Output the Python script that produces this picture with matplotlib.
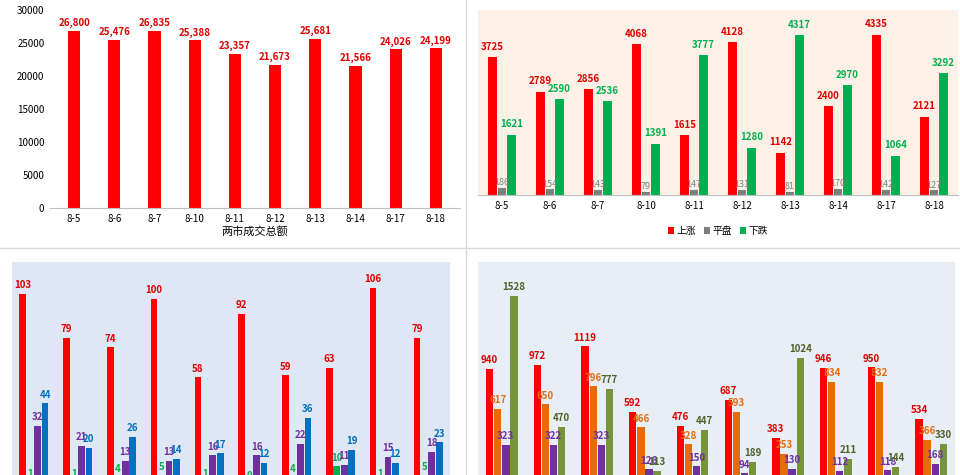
import numpy as np
import matplotlib.pyplot as plt

plt.rcParams['font.family'] = ['Noto Sans CJK SC', 'DejaVu Sans']

dates = ["8-5", "8-6", "8-7", "8-10", "8-11", "8-12", "8-13", "8-14", "8-17", "8-18"]

# 两市成交总额
turnover = [26800, 25476, 26835, 25388, 23357, 21673, 25681, 21566, 24026, 24199]

# 上涨 / 平盘 / 下跌
up = [3725, 2789, 2856, 4068, 1615, 4128, 1142, 2400, 4335, 2121]
flat = [186, 154, 143, 79, 147, 131, 81, 170, 142, 127]
down = [1621, 2590, 2536, 1391, 3777, 1280, 4317, 2970, 1064, 3292]

# bottom left
bl_red = [103, 79, 74, 100, 58, 92, 59, 63, 106, 79]
bl_green = [1, 1, 4, 5, 1, 0, 4, 10, 1, 5]
bl_purple = [32, 21, 13, 13, 16, 16, 22, 11, 15, 18]
bl_blue = [44, 20, 26, 14, 17, 12, 36, 19, 12, 23]

# bottom right
br_red = [940, 972, 1119, 592, 476, 687, 383, 946, 950, 534]
br_orange = [617, 650, 796, 466, 328, 593, 253, 834, 832, 366]
br_purple = [323, 322, 323, 126, 150, 94, 130, 112, 118, 168]
br_green = [1528, 470, 777, 113, 447, 189, 1024, 211, 144, 330]

W, H = 960, 475
fig = plt.figure(figsize=(9.6, 4.75), dpi=100)


def ax_at(x0, y0, x1, y1):
    # pixel box (top-left origin) -> axes
    return fig.add_axes([x0 / W, 1 - y1 / H, (x1 - x0) / W, (y1 - y0) / H])


x = np.arange(len(dates))

# ---- top left
ax = ax_at(50, 10, 460, 208)
ax.bar(x, turnover, width=0.3, color="#ff0000")
for i, v in enumerate(turnover):
    ax.text(i, v + 400, f"{v:,}", ha="center", va="bottom", fontsize=7,
            color="#e00000", fontweight="bold")
ax.set_ylim(0, 30000)
ax.set_xlim(-0.6, 9.6)
ax.set_xticks(x, dates, fontsize=7)
ax.set_yticks(range(0, 30001, 5000), [str(v) for v in range(0, 30001, 5000)], fontsize=7)
ax.set_xlabel("两市成交总额", fontsize=8, labelpad=2)
for s in ["top", "right", "left"]:
    ax.spines[s].set_visible(False)
ax.spines["bottom"].set_color("#bfbfbf")
ax.tick_params(length=0, pad=4)

# ---- top right
ax = ax_at(478, 10, 958, 195)
ax.set_facecolor("#fdf1e7")
bw = 0.2
ax.bar(x - bw, up, bw * 0.9, color="#ff0000", label="上涨")
ax.bar(x, flat, bw * 0.9, color="#7f7f7f", label="平盘")
ax.bar(x + bw, down, bw * 0.9, color="#00b050", label="下跌")
for i in range(len(dates)):
    ax.text(i - bw, up[i] + 150, str(up[i]), ha="center", va="bottom", fontsize=7,
            color="#e00000", fontweight="bold")
    ax.text(i, flat[i] + 20, str(flat[i]), ha="center", va="bottom", fontsize=6.5,
            color="#7f7f7f")
    ax.text(i + bw, down[i] + 150, str(down[i]), ha="center", va="bottom", fontsize=7,
            color="#00b050", fontweight="bold")
ax.set_ylim(0, 5000)
ax.set_xlim(-0.5, 9.5)
ax.set_xticks(x, dates, fontsize=7)
ax.set_yticks([])
for s in ["top", "right", "left"]:
    ax.spines[s].set_visible(False)
ax.spines["bottom"].set_color("#bfbfbf")
ax.tick_params(length=0, pad=4)
ax.legend(loc="upper center", bbox_to_anchor=(0.5, -0.12), ncol=3, frameon=False,
          fontsize=7, handlelength=0.6, handleheight=0.6, columnspacing=0.8,
          handletextpad=0.3)

# dividers
fig.add_artist(plt.Line2D([466 / W, 466 / W], [1 - 0 / H, 1 - 475 / H],
                          color="#d9d9d9", lw=1))
fig.add_artist(plt.Line2D([0, 1], [1 - 248 / H, 1 - 248 / H], color="#d9d9d9", lw=1))

# ---- bottom left
ax = ax_at(12, 262, 450, 485)
ax.set_facecolor("#dee7f3")
bw = 0.17
off = [-1.5 * bw, -0.5 * bw, 0.5 * bw, 1.5 * bw]
series = [(bl_red, "#ff0000", "#e00000"), (bl_green, "#00b050", "#00b050"),
          (bl_purple, "#7030a0", "#7030a0"), (bl_blue, "#0070c0", "#0070c0")]
for (vals, col, tcol), o in zip(series, off):
    ax.bar(x + o, vals, bw * 0.9, color=col)
    for i, v in enumerate(vals):
        ax.text(i + o, v + 2, str(v), ha="center", va="bottom", fontsize=7,
                color=tcol, fontweight="bold")
ax.set_ylim(0, 120)
ax.set_xlim(-0.5, 9.5)
ax.set_xticks([])
ax.set_yticks([])
for s in ax.spines.values():
    s.set_visible(False)

# ---- bottom right
ax = ax_at(478, 262, 955, 485)
ax.set_facecolor("#e8eef6")
series = [(br_red, "#ff0000", "#e00000"), (br_orange, "#e46c0a", "#e46c0a"),
          (br_purple, "#7030a0", "#7030a0"), (br_green, "#77933c", "#4f6228")]
for (vals, col, tcol), o in zip(series, off):
    ax.bar(x + o, vals, bw * 0.9, color=col)
    for i, v in enumerate(vals):
        ax.text(i + o, v + 30, str(v), ha="center", va="bottom", fontsize=7,
                color=tcol, fontweight="bold")
ax.set_ylim(0, 1800)
ax.set_xlim(-0.5, 9.5)
ax.set_xticks([])
ax.set_yticks([])
for s in ax.spines.values():
    s.set_visible(False)

fig.savefig("out.png", dpi=100)
